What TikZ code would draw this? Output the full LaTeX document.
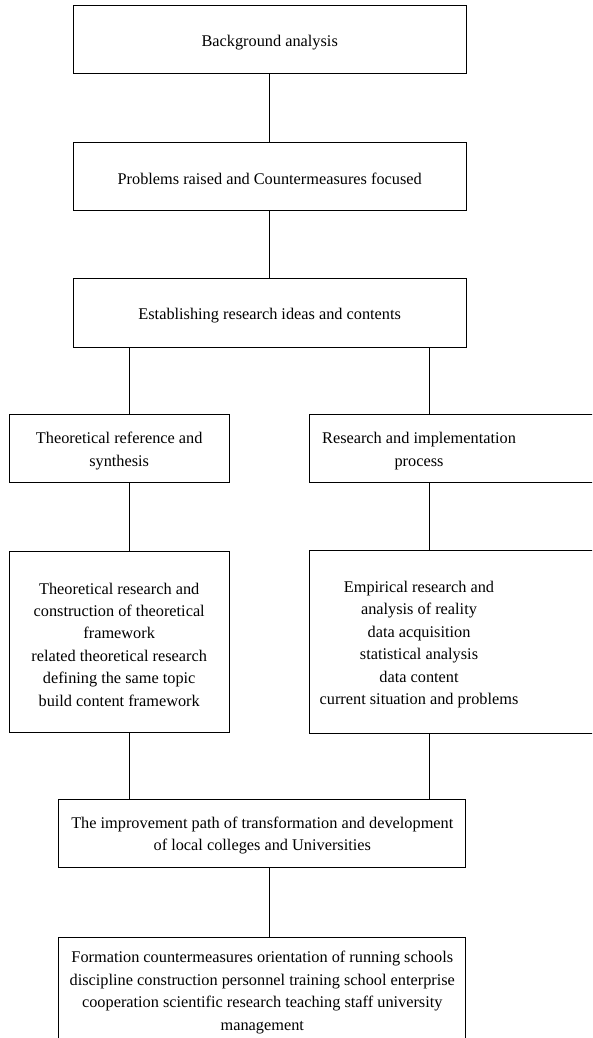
\documentclass[tikz,border=0pt]{standalone}
\usepackage{fontspec}
\setmainfont{Liberation Serif}
\begin{document}
\begin{tikzpicture}[x=1pt,y=1pt,
  box/.style={draw, line width=1pt, inner sep=0pt},
  frame/.style={inner sep=0pt},
  txt/.style={inner sep=0pt, align=center, yshift=-2.5pt, font=\fontsize{16.3}{22.4}\selectfont},
  conn/.style={line width=1pt}]
\useasboundingbox (0,0) rectangle (592,-1038);
\clip (0,0) rectangle (592,-1038);
\coordinate (xl) at (129.3,0);
\coordinate (xr) at (429,0);
\coordinate (xc) at (269,0);
\coordinate (redge) at (610,0);

\node[box, minimum width=392.7, minimum height=68, label={[txt]center:{Background analysis}}] (b1) at (269.7,-40) {};
\node[box, minimum width=392.7, minimum height=68, label={[txt]center:{Problems raised and Countermeasures focused}}] (b2) at (269.7,-176.7) {};
\node[box, minimum width=392.7, minimum height=69, label={[txt]center:{Establishing research ideas and contents}}] (b3) at (269.7,-312.8) {};
\node[box, minimum width=220.3, minimum height=68, label={[txt]center:{Theoretical reference and\\synthesis}}] (b4) at (119.2,-448.7) {};
\node[frame, minimum width=219.4, minimum height=68, label={[txt]center:{Research and implementation\\process}}] (b5) at (419,-448.7) {};
\draw[conn] (b5.south west) rectangle (b5.north east -| redge);
\node[box, minimum width=220.3, minimum height=181.7, label={[txt]center:{Theoretical research and\\construction of theoretical\\framework\\related theoretical research\\defining the same topic\\build content framework}}] (b6) at (119.2,-642) {};
\node[frame, minimum width=219.4, minimum height=181.7, label={[txt]center:{Empirical research and\\analysis of reality\\data acquisition\\statistical analysis\\data content\\current situation and problems}}] (b7) at (419,-642) {};
\draw[conn] (b7.south west) rectangle (b7.north east -| redge);
\node[box, minimum width=407.3, minimum height=68.3, label={[txt]center:{The improvement path of transformation and development\\of local colleges and Universities}}] (b8) at (262.3,-833.2) {};
\node[box, minimum width=407.3, minimum height=105.4, label={[txt]center:{Formation countermeasures orientation of running schools\\discipline construction personnel training school enterprise\\cooperation scientific research teaching staff university\\management}}] (b9) at (262.3,-990) {};

\draw[conn] (b1.south -| xc) -- (b2.north -| xc);
\draw[conn] (b2.south -| xc) -- (b3.north -| xc);
\draw[conn] (b3.south -| xl) -- (b4.north -| xl);
\draw[conn] (b3.south -| xr) -- (b5.north -| xr);
\draw[conn] (b4.south -| xl) -- (b6.north -| xl);
\draw[conn] (b5.south -| xr) -- (b7.north -| xr);
\draw[conn] (b6.south -| xl) -- (b8.north -| xl);
\draw[conn] (b7.south -| xr) -- (b8.north -| xr);
\draw[conn] (b8.south -| xc) -- (b9.north -| xc);
\end{tikzpicture}
\end{document}
